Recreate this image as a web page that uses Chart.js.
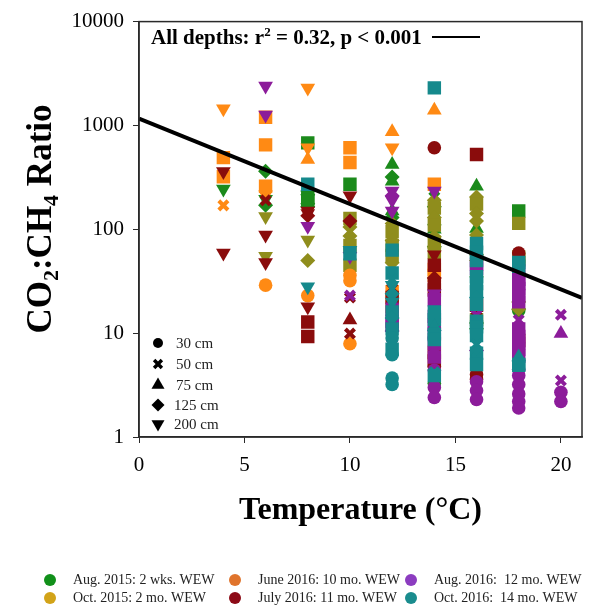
<!DOCTYPE html>
<html>
<head>
<meta charset="utf-8">
<script src="https://cdn.jsdelivr.net/npm/chart.js@4.4.0/dist/chart.umd.min.js"></script>
<style>
  html, body { margin: 0; padding: 0; background: #ffffff; }
  canvas { display: block; }
</style>
</head>
<body>
<canvas id="chart" width="597" height="607"></canvas>
<script>
// Sampling campaigns (time since water-table experiment began)
const campaigns = [
  'Aug. 2015: 2 wks. WEW',
  'Oct. 2015: 2 mo. WEW',
  'June 2016: 10 mo. WEW',
  'July 2016: 11 mo. WEW',
  'Aug. 2016:  12 mo. WEW',
  'Oct. 2016:  14 mo. WEW'
];

// Depth classes shown in the marker key (cm); 10 = square marker (not keyed)
const depths = [30, 50, 75, 125, 200];
const depthLabels = ['30 cm', '50 cm', '75 cm', '125 cm', '200 cm'];

// Rows: [temperature (°C), CO2:CH4 ratio, depth (cm)]
const aug2015 = [
  [4, 245, 200], [6, 362, 125], [6, 195, 200], [6, 170, 125],
  [8, 680, 10], [8, 234, 125], [8, 215, 125], [8, 200, 10], [8, 190, 10], [8, 176, 125], [8, 165, 125],
  [10, 272, 10],
  [12, 420, 75], [12, 318, 125], [12, 290, 75], [12, 150, 75], [12, 130, 125],
  [14, 205, 50], [14, 165, 125], [14, 145, 50], [14, 120, 75], [14, 100, 75], [14, 68, 125], [14, 3.3, 30],
  [16, 260, 75], [16, 102, 75], [16, 38, 75], [16, 12.5, 125], [16, 11, 125],
  [18, 150, 10], [18, 18.6, 75], [18, 16.5, 30]
];
const oct2015 = [
  [6, 133, 200], [6, 55, 200],
  [8, 79, 200], [8, 50, 125],
  [10, 127, 10], [10, 105, 125], [10, 86, 125], [10, 70, 10], [10, 45, 10],
  [12, 114, 125], [12, 95, 10], [12, 78, 125], [12, 70, 10], [12, 56, 10], [12, 47.6, 125],
  [14, 190, 125], [14, 160, 10], [14, 130, 125], [14, 110, 10], [14, 85, 125], [14, 75, 10], [14, 60, 10],
  [16, 205, 125], [16, 175, 10], [16, 142, 125], [16, 120, 125], [16, 88, 125], [16, 57, 125],
  [16, 50, 125], [16, 13.5, 10],
  [18, 114, 10], [18, 54, 10], [18, 51, 10], [18, 20, 125], [18, 17, 125]
];
const jun2016 = [
  [4, 1450, 200], [4, 490, 10], [4, 320, 10], [4, 170, 50],
  [6, 1200, 10], [6, 650, 10], [6, 260, 10], [6, 215, 200], [6, 29, 30],
  [8, 2300, 200], [8, 610, 200], [8, 470, 75], [8, 23, 30],
  [10, 610, 10], [10, 440, 10], [10, 36, 30], [10, 32, 30], [10, 7.9, 30],
  [12, 870, 75], [12, 610, 200], [12, 25, 10], [12, 18, 10],
  [14, 1400, 75], [14, 272, 10], [14, 41, 10], [14, 36, 10]
];
const jul2016 = [
  [4, 360, 200], [4, 59, 200],
  [6, 190, 50], [6, 88, 200], [6, 48, 200],
  [8, 150, 200], [8, 142, 200], [8, 135, 125], [8, 18, 200], [8, 12.8, 10], [8, 9.3, 10],
  [10, 210, 200], [10, 120, 125], [10, 22, 50], [10, 13.4, 75], [10, 9.9, 50],
  [12, 27, 50], [12, 22, 10], [12, 8, 50],
  [14, 610, 30], [14, 57, 200], [14, 45, 10], [14, 34, 125], [14, 30, 10], [14, 26, 10],
  [14, 19, 50], [14, 6.5, 10], [14, 5.4, 10], [14, 4.8, 30],
  [16, 525, 10], [16, 18.6, 10], [16, 16.5, 50], [16, 5.3, 50], [16, 4.6, 50], [16, 4.0, 30], [16, 3.6, 30],
  [18, 59, 30], [18, 10, 50], [18, 8.5, 10], [18, 6.7, 50]
];
const aug2016 = [
  [6, 2400, 200], [6, 1260, 200],
  [8, 107, 200],
  [10, 55, 200], [10, 23, 50],
  [12, 234, 200], [12, 210, 125], [12, 190, 200], [12, 150, 200], [12, 17, 10], [12, 13, 10],
  [12, 12, 10], [12, 10.5, 125], [12, 7.8, 50],
  [14, 234, 200], [14, 24, 200], [14, 21, 10], [14, 17, 50], [14, 14.5, 10], [14, 12, 10],
  [14, 10, 10], [14, 8, 10], [14, 7.1, 50], [14, 5.9, 10], [14, 4.4, 30], [14, 3.5, 50],
  [14, 3, 30], [14, 2.4, 30],
  [16, 46, 10], [16, 42, 10], [16, 15, 50], [16, 6.8, 125], [16, 3.4, 30], [16, 2.8, 30], [16, 2.3, 30],
  [18, 40, 10], [18, 33, 10], [18, 30, 10], [18, 27, 10], [18, 23, 10], [18, 20, 10],
  [18, 13.4, 50], [18, 11, 10], [18, 9.3, 10], [18, 8, 10], [18, 7, 10], [18, 6, 10],
  [18, 4.5, 30], [18, 3.9, 30], [18, 3.2, 30], [18, 2.6, 30], [18, 2.2, 30], [18, 1.9, 30],
  [20, 15, 50], [20, 9.9, 75], [20, 3.5, 50], [20, 2.7, 30], [20, 2.2, 30]
];
const oct2016 = [
  [8, 272, 10], [8, 28, 200],
  [10, 63, 200], [10, 58, 10],
  [12, 63, 10], [12, 38, 10], [12, 33, 50], [12, 29, 200], [12, 24, 125], [12, 20, 200],
  [12, 16, 10], [12, 14, 125], [12, 11, 10], [12, 9, 30], [12, 7, 10],
  [12, 6.2, 30], [12, 3.7, 30], [12, 3.2, 30],
  [14, 2300, 10], [14, 16, 10], [14, 13.5, 10], [14, 11.5, 75], [14, 9.7, 10], [14, 8.7, 10],
  [14, 4.2, 50], [14, 3.9, 10],
  [16, 73, 10], [16, 60, 10], [16, 50, 10], [16, 35, 10], [16, 30, 10], [16, 25, 10],
  [16, 22, 125], [16, 19, 10], [16, 13, 10], [16, 11.5, 10], [16, 9.5, 10],
  [16, 7.8, 50], [16, 6.4, 10], [16, 5.7, 50], [16, 5, 10],
  [18, 48, 10], [18, 44, 10], [18, 5.9, 75], [18, 5.0, 10], [18, 4.9, 10]
];
const campaignRows = [aug2015, oct2015, jun2016, jul2016, aug2016, oct2016];

// Log-linear fit over all depths: log10(ratio) = a + b * T
const fitIntercept = 3.065;
const fitSlope = -0.0822;
const fitRange = [0, 21];

// Axis ticks
const xTicks = [0, 5, 10, 15, 20];
const yTicks = [1, 10, 100, 1000, 10000];

// ---- styling ----
const SERIF = "'Liberation Serif', 'Times New Roman', serif";
const markerColors = ['#1b8a1b', '#8f8d1c', '#ff8a14', '#8a0c0c', '#8c1c9a', '#15898c'];
const keyColors = ['#11901a', '#d2a318', '#e0742c', '#8c0a16', '#8c3cc0', '#1a8c8e'];
const markerStyle = { 10: 'rect', 30: 'circle', 50: 'crossRot', 75: 'triangle', 125: 'rectRot', 200: 'triangle' };
const markerRadius = { 10: 9.5, 30: 6.8, 50: 6.5, 75: 8.5, 125: 7.5, 200: 8.5 };

const pointOpt = (fn, fallback) => c => (c.raw && c.raw.d !== undefined ? fn(c.raw.d) : fallback);

const datasets = campaignRows.map((rows, i) => ({
  label: campaigns[i],
  data: rows.map(([x, y, d]) => ({ x, y, d })),
  order: 10 - i,
  backgroundColor: markerColors[i],
  borderColor: markerColors[i],
  pointStyle: pointOpt(d => markerStyle[d], 'circle'),
  pointRadius: pointOpt(d => markerRadius[d], 6),
  pointRotation: pointOpt(d => (d === 200 ? 180 : 0), 0),
  pointBorderWidth: pointOpt(d => (d === 50 ? 4 : 0), 0)
}));

datasets.push({
  label: 'fit',
  data: fitRange.map(t => ({ x: t, y: Math.pow(10, fitIntercept + fitSlope * t) })),
  showLine: true,
  borderColor: '#000000',
  borderWidth: 4,
  pointRadius: 0,
  order: 0
});

// Frame, axis titles, fit label and the two keys
const annotations = {
  id: 'annotations',
  afterDraw(chart) {
    const { ctx, chartArea: a } = chart;
    const H = Chart.helpers;
    ctx.save();

    // box around plotting area
    ctx.strokeStyle = '#2a2a2a';
    ctx.lineWidth = 1.5;
    ctx.strokeRect(a.left, a.top, a.right - a.left, a.bottom - a.top);

    // fit label with superscript
    ctx.fillStyle = '#000';
    ctx.textBaseline = 'alphabetic';
    ctx.textAlign = 'left';
    let x = 151;
    const by = 44;
    const big = 'bold 21px ' + SERIF;
    const small = 'bold 13px ' + SERIF;
    ctx.font = big;
    const part1 = 'All depths: r';
    ctx.fillText(part1, x, by);
    x += ctx.measureText(part1).width;
    ctx.font = small;
    ctx.fillText('2', x, by - 8);
    x += ctx.measureText('2').width;
    ctx.font = big;
    const part2 = ' = 0.32, p < 0.001';
    ctx.fillText(part2, x, by);
    ctx.lineWidth = 2;
    ctx.strokeStyle = '#000';
    ctx.beginPath();
    ctx.moveTo(432, 37);
    ctx.lineTo(480, 37);
    ctx.stroke();

    // x-axis title
    ctx.font = 'bold 32px ' + SERIF;
    ctx.textAlign = 'center';
    ctx.textBaseline = 'middle';
    ctx.fillText('Temperature (\u00B0C)', (a.left + a.right) / 2, 511);

    // y-axis title with subscripts
    const pieces = [['CO', false], ['2', true], [':CH', false], ['4', true], [' Ratio', false]];
    const fBig = 'bold 35px ' + SERIF;
    const fSub = 'bold 22px ' + SERIF;
    let total = 0;
    pieces.forEach(([t, sub]) => { ctx.font = sub ? fSub : fBig; total += ctx.measureText(t).width; });
    ctx.translate(40, 219);
    ctx.rotate(-Math.PI / 2);
    ctx.textAlign = 'left';
    ctx.textBaseline = 'alphabetic';
    let px = -total / 2;
    pieces.forEach(([t, sub]) => {
      ctx.font = sub ? fSub : fBig;
      ctx.fillText(t, px, sub ? 18 : 11);
      px += ctx.measureText(t).width;
    });
    ctx.setTransform(1, 0, 0, 1, 0, 0);

    // depth marker key (inside plot, lower left)
    const keyY = [343, 364, 385, 405, 424];
    const keyR = { 30: 5, 50: 5.5, 75: 7.5, 125: 6.5, 200: 7.5 };
    ctx.font = '15px ' + SERIF;
    ctx.textAlign = 'left';
    ctx.textBaseline = 'middle';
    depths.forEach((d, i) => {
      ctx.fillStyle = '#000';
      ctx.strokeStyle = '#000';
      ctx.lineWidth = d === 50 ? 3.5 : 0;
      H.drawPoint(ctx, {
        pointStyle: markerStyle[d],
        radius: keyR[d],
        rotation: d === 200 ? 180 : 0,
        borderWidth: d === 50 ? 3.5 : 0
      }, 158, keyY[i]);
      ctx.fillStyle = '#222';
      ctx.fillText(depthLabels[i], d >= 100 ? 174 : 176, keyY[i] + 1);
    });

    // campaign colour key (below the chart, 3 columns x 2 rows)
    const colX = [50, 235, 411];
    const rowY = [580, 598];
    ctx.font = '14px ' + SERIF;
    campaigns.forEach((label, i) => {
      const cx = colX[Math.floor(i / 2)];
      const cy = rowY[i % 2];
      ctx.fillStyle = keyColors[i];
      ctx.beginPath();
      ctx.arc(cx, cy, 6, 0, Math.PI * 2);
      ctx.fill();
      ctx.fillStyle = '#222';
      ctx.fillText(label, cx + 23, cy);
    });

    ctx.restore();
  }
};

new Chart(document.getElementById('chart'), {
  type: 'scatter',
  data: { datasets },
  plugins: [annotations],
  options: {
    responsive: false,
    devicePixelRatio: 1,
    animation: false,
    events: [],
    layout: { padding: { top: 15, right: 15, bottom: 0, left: 0 } },
    plugins: { legend: { display: false }, tooltip: { enabled: false } },
    scales: {
      x: {
        type: 'linear',
        min: 0,
        max: 21,
        afterFit: s => { s.height = 170; },
        afterBuildTicks: s => { s.ticks = xTicks.map(v => ({ value: v })); },
        ticks: { color: '#000', padding: 10, font: { family: SERIF, size: 21 }, callback: v => String(v) },
        grid: { drawOnChartArea: false, drawTicks: true, tickLength: 6, color: '#2a2a2a' },
        border: { color: '#2a2a2a', width: 1.5 }
      },
      y: {
        type: 'logarithmic',
        min: 1,
        max: 10000,
        afterFit: s => { s.width = 139; },
        afterBuildTicks: s => { s.ticks = yTicks.map(v => ({ value: v })); },
        ticks: { color: '#000', padding: 9, font: { family: SERIF, size: 21 }, callback: v => String(v) },
        grid: { drawOnChartArea: false, drawTicks: true, tickLength: 6, color: '#2a2a2a' },
        border: { color: '#2a2a2a', width: 1.5 }
      }
    }
  }
});
</script>
</body>
</html>
